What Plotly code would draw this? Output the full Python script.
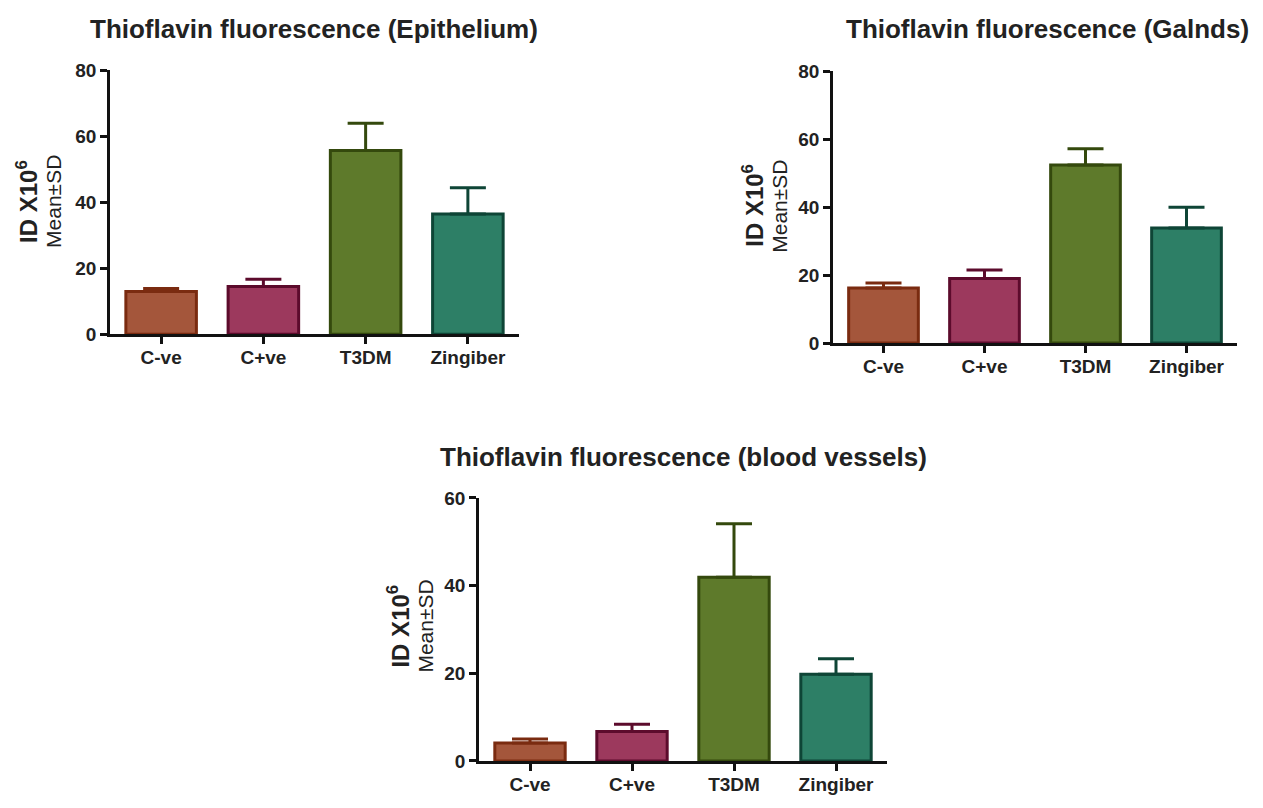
import plotly.graph_objects as go

W, H = 1263, 808

categories = ["C-ve", "C+ve", "T3DM", "Zingiber"]

epi_mean = [13.0, 14.5, 55.7, 36.5]
epi_sd = [0.9, 2.2, 8.3, 7.9]

gland_mean = [16.2, 19.0, 52.4, 33.9]
gland_sd = [1.5, 2.5, 4.8, 6.1]

vessel_mean = [4.1, 6.7, 41.9, 19.8]
vessel_sd = [0.9, 1.7, 12.2, 3.5]

titles = ["Thioflavin fluorescence (Epithelium)",
          "Thioflavin fluorescence (Galnds)",
          "Thioflavin fluorescence (blood vessels)"]

y_ticks_a = [0, 20, 40, 60, 80]
y_ticks_b = [0, 20, 40, 60]

fills = ["#A4563B", "#9C395D", "#5E7A2B", "#2D7F66"]
edges = ["#7A2B10", "#5C0B2C", "#34490D", "#0E4536"]

# panel geometry in pixels: (x0, x1, ytop, ybottom)
panels = [
    dict(px=(110, 519), py=(62, 333), yr=80, ticks=y_ticks_a, mean=epi_mean, sd=epi_sd,
         title_xy=(314, 19), lab1=(27, 196), lab2=(54, 196)),
    dict(px=(833, 1237), py=(63, 342), yr=80, ticks=y_ticks_a, mean=gland_mean, sd=gland_sd,
         title_xy=(1047, 20), lab1=(753, 201), lab2=(780, 201)),
    dict(px=(479, 887), py=(501, 771), yr=60, ticks=y_ticks_b, mean=vessel_mean, sd=vessel_sd,
         title_xy=(683, 459), lab1=(398, 633), lab2=(426, 633)),
]

fig = go.Figure()
font_fam = "Liberation Sans, Arial, sans-serif"
txt_col = "#222222"

annotations = []
for i, p in enumerate(panels):
    n = "" if i == 0 else str(i + 1)
    xa, ya = "x" + n, "y" + n
    for j, cat in enumerate(categories):
        fig.add_trace(go.Bar(
            x=[cat], y=[p["mean"][j]], xaxis=xa, yaxis=ya, width=0.69,
            marker=dict(color=fills[j], line=dict(color=edges[j], width=3)),
            error_y=dict(type="data", symmetric=False, array=[p["sd"][j]], arrayminus=[0],
                         color=edges[j], thickness=3, width=18),
            showlegend=False,
        ))
    x0, x1 = p["px"]
    yt, yb = p["py"]
    axis_common = dict(showline=True, linecolor="#111111", linewidth=2.5, ticks="outside",
                       ticklen=7, tickwidth=2.5, tickcolor="#111111", showgrid=False,
                       zeroline=False,
                       tickfont=dict(family=font_fam, size=19, color=txt_col, weight="bold"))
    fig.update_layout(**{
        ("xaxis" + n): dict(domain=[x0 / W, x1 / W], anchor=ya, range=[-0.5, 3.5],
                            categoryorder="array", categoryarray=categories,
                            ticklabelstandoff=-3, **axis_common),
        ("yaxis" + n): dict(domain=[1 - yb / H, 1 - yt / H], anchor=xa, range=[0, p["yr"]],
                            tickvals=p["ticks"], **axis_common),
    })
    tx, ty = p["title_xy"]
    annotations.append(dict(text="<b>" + titles[i] + "</b>", x=tx / W, y=1 - ty / H,
                            xref="paper", yref="paper", showarrow=False,
                            xanchor="center", yanchor="middle",
                            font=dict(family=font_fam, size=26, color=txt_col)))
    l1x, l1y = p["lab1"]
    annotations.append(dict(text="<b>ID X10<sup>6</sup></b>", x=l1x / W, y=1 - l1y / H,
                            xref="paper", yref="paper", showarrow=False, textangle=-90,
                            xanchor="center", yanchor="middle",
                            font=dict(family=font_fam, size=24, color=txt_col)))
    l2x, l2y = p["lab2"]
    annotations.append(dict(text="Mean±SD", x=l2x / W, y=1 - l2y / H,
                            xref="paper", yref="paper", showarrow=False, textangle=-90,
                            xanchor="center", yanchor="middle",
                            font=dict(family=font_fam, size=21, color=txt_col)))

fig.update_layout(width=W, height=H, margin=dict(l=0, r=0, t=0, b=0),
                  paper_bgcolor="white", plot_bgcolor="white", barmode="overlay",
                  annotations=annotations, font=dict(family=font_fam, color=txt_col))

fig.write_html("out.html", config={"displayModeBar": False},
               post_script="document.body.style.margin='0';document.body.style.overflow='hidden';")
